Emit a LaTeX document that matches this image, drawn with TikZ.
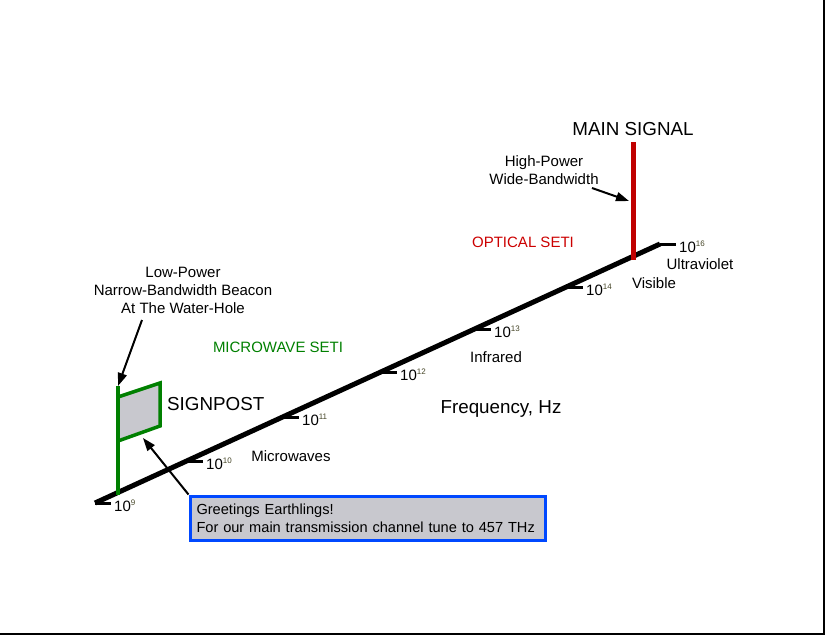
\documentclass[tikz,border=0pt]{standalone}
\usepackage{fontspec}
\setmainfont{Liberation Sans}
\usetikzlibrary{arrows.meta,calc}
\definecolor{sgreen}{RGB}{0,128,0}
\definecolor{sred}{RGB}{192,0,0}
\definecolor{tred}{RGB}{204,0,0}
\definecolor{sblue}{RGB}{0,72,255}
\definecolor{dotfill}{RGB}{200,200,206}
\definecolor{supcol}{RGB}{70,70,40}
\newcommand{\supnum}[1]{\raisebox{5.5pt}{\fontsize{8}{8}\selectfont\color{supcol}#1}}
\begin{document}
\begin{tikzpicture}[x=1pt,y=-1pt,
  smalltext/.style={font=\fontsize{15}{18}\selectfont, align=center, inner sep=0pt},
  bigtext/.style={font=\fontsize{18.8}{20}\selectfont, inner sep=0pt},
  axisline/.style={line width=5pt, black},
  tickline/.style={line width=3pt, black},
  ticklabel/.style={font=\fontsize{15}{16}\selectfont, anchor=west, inner sep=0pt},
  arrowline/.style={line width=2pt, -{Triangle[length=13pt,width=9pt]}},
  greetbox/.style={draw=sblue, line width=3pt, fill=dotfill, anchor=north west,
    minimum width=355pt, minimum height=44pt, inner xsep=5pt, text width=342pt,
    align=left, font=\fontsize{14.6}{18}\selectfont}]
\useasboundingbox (0,0) rectangle (825,637);
% frame
\draw[line width=2pt] (824,0) -- (824,634) -- (0,634);
% axis
\coordinate (a0) at (95,503);
\coordinate (a1) at (660,244);
\draw[axisline] (a0) -- (a1);
\foreach \n/\x/\y in {9/95/503,10/187/461,11/283/417,12/381/372,13/475/329,14/567/287,16/660/244}{
  \coordinate (t\n) at (\x,\y);
  \draw[tickline] (t\n) -- ++(16,0) coordinate (e\n);
  \node[ticklabel] (l\n) at ($(e\n)+(3,3)$) {10\supnum{\n}};
}
% main signal
\coordinate (msb) at (633,260);
\coordinate (mst) at (633,142);
\draw[line width=5pt, sred] (msb) -- (mst);
\node[bigtext] (msl) at (633,129) {MAIN SIGNAL};
\node[smalltext] (hp) at (544,170) {High-Power\\Wide-Bandwidth};
\coordinate (hps) at (592,188);
\coordinate (hpe) at (629,201);
\draw[arrowline] (hps) -- (hpe);
% flag
\coordinate (pb) at (118,495);
\coordinate (pt) at (118,386);
\fill[dotfill] (118,396) -- (160,382) -- (160,427) -- (118,442) -- cycle;
\draw[sgreen, line width=3.5pt, line join=miter] (118,397) -- (160,383) -- (160,426) -- (118,441);
\draw[sgreen, line width=4pt] (pb) -- (pt);
\node[bigtext, anchor=west] (sp) at (167,404) {SIGNPOST};
\node[smalltext] (beacon) at (183,290) {Low-Power\\Narrow-Bandwidth Beacon\\At The Water-Hole};
\coordinate (bs) at (142,320);
\coordinate (be) at (118,386);
\draw[arrowline] (bs) -- (be);
% greeting
\node[greetbox] (greet) at (188.5,494.5) {Greetings Earthlings!\\For our main transmission channel tune to 457 THz};
\coordinate (ft) at (143,438);
\draw[arrowline] (greet.north west) -- (ft);
% labels
\node[smalltext, text=tred] (opt) at (523,242) {OPTICAL SETI};
\node[smalltext, text=sgreen] (mw) at (278,347) {MICROWAVE SETI};
\node[bigtext] (freq) at (501,409) {Frequency, Hz};
\node[smalltext] (micro) at (291,456) {Microwaves};
\node[smalltext] (ir) at (496,357) {Infrared};
\node[smalltext] (vis) at (654,283) {Visible};
\node[smalltext] (uv) at (700,264) {Ultraviolet};
\end{tikzpicture}
\end{document}
